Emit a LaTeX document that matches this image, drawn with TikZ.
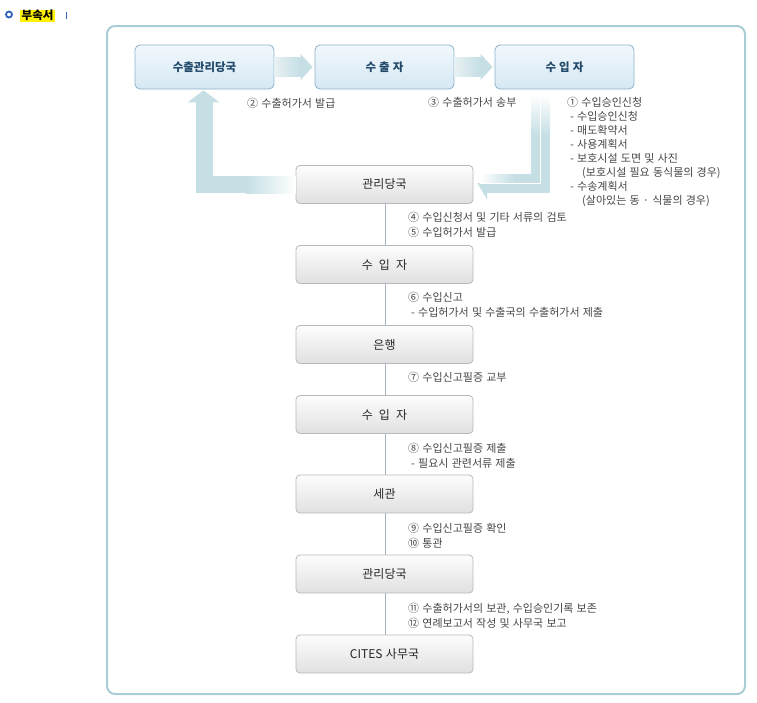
\documentclass[tikz,border=0pt]{standalone}
\usepackage{fontspec}
\setmainfont{Noto Sans CJK KR}[WordSpace=1.3]
\usetikzlibrary{calc}
\definecolor{framec}{HTML}{A8CDD4}
\definecolor{arrowc}{HTML}{C5DFE5}
\definecolor{arrowl}{HTML}{E8F0F2}
\definecolor{tbfillA}{HTML}{F1F8FC}
\definecolor{tbfillB}{HTML}{D5E8F4}
\definecolor{tbdraw}{HTML}{8DB2CB}
\definecolor{tbtext}{HTML}{234A6B}
\definecolor{gbA}{HTML}{FDFDFD}
\definecolor{gbB}{HTML}{E0E0E0}
\definecolor{gbdraw}{HTML}{B9B9B9}
\definecolor{gbtext}{HTML}{262626}
\definecolor{lblc}{HTML}{464646}
\definecolor{connc}{HTML}{A3B3C3}
\definecolor{bulletc}{HTML}{2F62B8}
\begin{document}
\begin{tikzpicture}[x=1pt,y=-1pt,
  topbox/.style={draw=tbdraw, line width=0.8pt, rounded corners=5pt, top color=tbfillA, bottom color=tbfillB, minimum width=139pt, minimum height=44pt, font=\fontsize{11.5}{14}\selectfont\bfseries, text=tbtext, inner sep=0pt},
  graybox/.style={draw=gbdraw, line width=0.8pt, rounded corners=4pt, top color=gbA, bottom color=gbB, minimum width=177pt, minimum height=38pt, font=\fontsize{12}{14}\selectfont, text=gbtext, inner sep=0pt},
  lbl/.style={anchor=north west, inner sep=0pt, align=left, text=lblc, font=\fontsize{11}{15}\selectfont},
  conn/.style={draw=connc, line width=0.8pt},
]
\useasboundingbox (0,0) rectangle (757,702);
% header
\draw[bulletc, line width=1.8pt, fill=white] (9,14.5) circle (3pt);
\node[fill=yellow, inner xsep=1.5pt, inner ysep=0pt, minimum height=12pt, anchor=west, font=\fontsize{11.5}{14}\selectfont\bfseries] (hdr) at (20,15.5) {부속서};
\fill[bulletc] (65.5,11.5) rectangle (67,19);
% outer frame
\draw[framec, line width=2pt, rounded corners=8pt] (107,26) rectangle (745,694);
% top boxes
\node[topbox] (ea) at (204.5,67) {수출관리당국};
\node[topbox] (ex) at (384.5,67) {수\hspace{3pt}출\hspace{3pt}자};
\node[topbox] (ip) at (564.5,67) {수\hspace{3pt}입\hspace{3pt}자};
% top arrows
\shade[left color=arrowl, right color=arrowc] ($(ea.east)+(0,-9.5)$) rectangle ($(ex.west)+(-14,9.5)$);
\fill[arrowc] ($(ex.west)+(-14,-13)$) -- ($(ex.west)+(-2,0)$) -- ($(ex.west)+(-14,13)$) -- cycle;
\shade[left color=arrowl, right color=arrowc] ($(ex.east)+(0,-9.5)$) rectangle ($(ip.west)+(-14,9.5)$);
\fill[arrowc] ($(ip.west)+(-14,-13)$) -- ($(ip.west)+(-2,0)$) -- ($(ip.west)+(-14,13)$) -- cycle;
% gray chain
\node[graybox] (g1) at (384.5,184.5) {관리당국};
\node[graybox] (g2) at (384.5,264.5) {수\hspace{6pt}입\hspace{6pt}자};
\node[graybox] (g3) at (384.5,344.5) {은행};
\node[graybox] (g4) at (384.5,414.5) {수\hspace{6pt}입\hspace{6pt}자};
\node[graybox] (g5) at (384.5,494) {세관};
\node[graybox] (g6) at (384.5,574) {관리당국};
\node[graybox] (g7) at (384.5,654) {CITES 사무국};
\foreach \a/\b in {g1/g2,g2/g3,g3/g4,g4/g5,g5/g6,g6/g7}
  \draw[conn] ([xshift=1pt]\a.south) -- ([xshift=1pt]\b.north);
% left return arrow (관리당국 -> 수출관리당국)
\coordinate (lk) at (ea.south |- g1.west);
\fill[arrowc] ($(ea.south)+(-17,13)$) -- ($(ea.south)+(-1,1)$) -- ($(ea.south)+(15,13)$) -- cycle;
\fill[arrowc] ($(ea.south)+(-9,12.5)$) rectangle ($(lk)+(8,8.5)$);
\fill[arrowc] ($(lk)+(7.5,-8.5)$) rectangle ($(lk)+(42,8.5)$);
\shade[left color=arrowc, right color=white] ($(lk)+(41.5,-8.5)$) rectangle ($(g1.west)+(0,8.5)$);
% right return arrow (수입자 -> 관리당국)
\shade[top color=white, bottom color=arrowc] (531,95) rectangle (550,135);
\fill[arrowc] (531,134.5) rectangle (550,193);
\fill[arrowc] (487,183) rectangle (550,193);
\fill[arrowc] ($(g1.east)+(4,-1.5)$) -- (487,199.5) -- (487,183) -- cycle;
\fill[arrowc] (514,174) rectangle (531.5,183.5);
\shade[left color=white, right color=arrowc] (480,174) rectangle (514.5,183.5);
\draw[white, line width=1.6pt] (540.5,95) -- (540.5,183.5) -- (480,183.5);
% top labels
\node[lbl] (l2) at (247,98) {② 수출허가서 발급};
\node[lbl] (l3) at (428,97) {③ 수출허가서 송부};
\node[lbl, font=\fontsize{11}{14}\selectfont] (l1) at (567,97) {① 수입승인신청\\
\hspace{3pt}- 수입승인신청\\
\hspace{3pt}- 매도확약서\\
\hspace{3pt}- 사용계획서\\
\hspace{3pt}- 보호시설 도면 및 사진\\
\hspace{15pt}(보호시설 필요 동식물의 경우)\\
\hspace{3pt}- 수송계획서\\
\hspace{15pt}(살아있는 동 · 식물의 경우)};
% chain labels
\node[lbl] (l45) at (408,212) {④ 수입신청서 및 기타 서류의 검토\\⑤ 수입허가서 발급};
\node[lbl] (l6) at (408,292) {⑥ 수입신고\\\hspace{3pt}- 수입허가서 및 수출국의 수출허가서 제출};
\node[lbl] (l7) at (408,372) {⑦ 수입신고필증 교부};
\node[lbl] (l8) at (408,443) {⑧ 수입신고필증 제출\\\hspace{3pt}- 필요시 관련서류 제출};
\node[lbl] (l910) at (408,523) {⑨ 수입신고필증 확인\\⑩ 통관};
\node[lbl] (l1112) at (408,603) {⑪ 수출허가서의 보관, 수입승인기록 보존\\⑫ 연례보고서 작성 및 사무국 보고};
\end{tikzpicture}
\end{document}
